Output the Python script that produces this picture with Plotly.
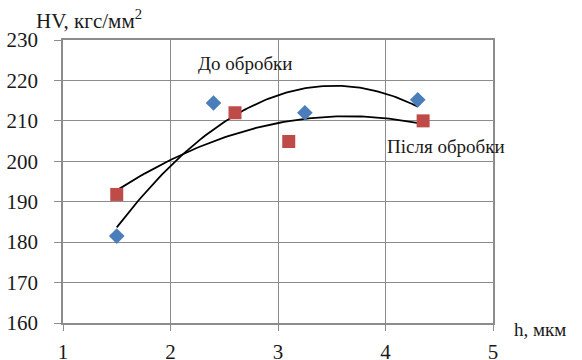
import numpy as np
import plotly.graph_objects as go

# Data
x_before = [1.5, 2.4, 3.25, 4.3]
y_before = [181.5, 214.4, 212.0, 215.2]
x_after = [1.5, 2.6, 3.1, 4.35]
y_after = [191.8, 212.0, 204.9, 210.0]
x_ticks = [1, 2, 3, 4, 5]
y_ticks = [160, 170, 180, 190, 200, 210, 220, 230]

FONT = "Liberation Serif"
GRID = "#8c8c8c"
TXT = "#1a1a1a"

def trend(xs, ys):
    c = np.polyfit(xs, ys, 2)
    xx = np.linspace(min(xs), max(xs), 100)
    return xx, np.polyval(c, xx)

fig = go.Figure()
tx, ty = trend(x_before, y_before)
fig.add_trace(go.Scatter(x=tx, y=ty, mode="lines", line=dict(color="black", width=1.8), hoverinfo="skip"))
tx2, ty2 = trend(x_after, y_after)
fig.add_trace(go.Scatter(x=tx2, y=ty2, mode="lines", line=dict(color="black", width=1.8), hoverinfo="skip"))
fig.add_trace(go.Scatter(x=x_before, y=y_before, mode="markers",
                         marker=dict(symbol="diamond", size=12, color="#4a7ebb")))
fig.add_trace(go.Scatter(x=x_after, y=y_after, mode="markers",
                         marker=dict(symbol="square", size=13, color="#be4b48")))

ann_font = dict(family=FONT, size=19, color=TXT)
fig.update_layout(
    width=582, height=360,
    margin=dict(l=63, r=89, t=40, b=37, autoexpand=False),
    paper_bgcolor="white", plot_bgcolor="white",
    showlegend=False,
    font=dict(family=FONT, size=21, color=TXT),
    annotations=[
        dict(x=2.69, y=224.1, xref="x", yref="y", text="До обробки", showarrow=False, font=ann_font),
        dict(x=4.56, y=203.6, xref="x", yref="y", text="Після обробки", showarrow=False, font=ann_font),
        dict(x=-0.067, y=1.072, xref="paper", yref="paper", xanchor="left", yanchor="middle",
             text="HV, кгс/мм<sup>2</sup>", showarrow=False,
             font=dict(family=FONT, size=21, color=TXT)),
        dict(x=1.045, y=-0.022, xref="paper", yref="paper", xanchor="left", yanchor="middle",
             text="h, мкм", showarrow=False, font=ann_font),
    ],
)
fig.update_xaxes(range=[1, 5], tickvals=x_ticks, showgrid=True, gridcolor=GRID, gridwidth=1,
                 showline=True, linecolor=GRID, linewidth=1.5, mirror=True, automargin=False,
                 ticks="outside", ticklen=6, tickcolor=GRID, zeroline=False,
                 ticklabelstandoff=3, tickfont=dict(family=FONT, size=21, color=TXT))
fig.update_yaxes(range=[160, 230], tickvals=y_ticks, showgrid=True, gridcolor=GRID, gridwidth=1,
                 showline=True, linecolor=GRID, linewidth=1.5, mirror=True, automargin=False,
                 ticks="outside", ticklen=7, tickcolor=GRID, zeroline=False,
                 ticklabelstandoff=12, tickfont=dict(family=FONT, size=21, color=TXT))

fig.write_html("out.html")
